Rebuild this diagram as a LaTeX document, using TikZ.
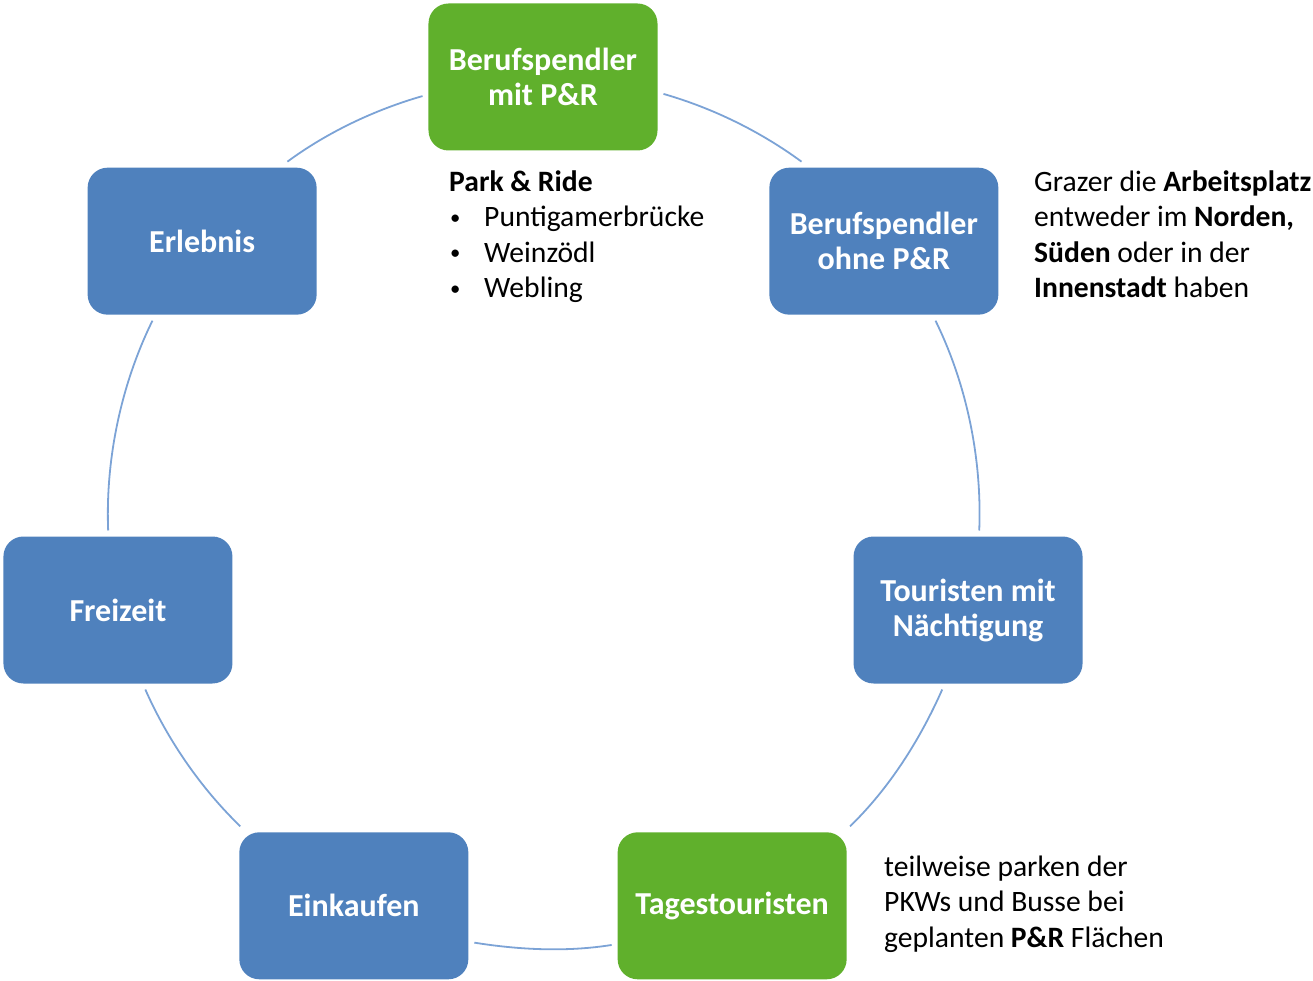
\documentclass[tikz,border=0pt]{standalone}
\usepackage{fontspec}
\setmainfont{Carlito}
\usetikzlibrary{positioning}
\definecolor{boxblau}{RGB}{79,129,189}
\definecolor{boxgruen}{RGB}{96,176,44}
\definecolor{kreislinie}{RGB}{124,163,214}

\begin{document}
\begin{tikzpicture}[x=1pt,y=1pt]
            \tikzset{kasten/.style={rectangle, rounded corners=20pt, minimum width=229pt, minimum height=147pt,
                inner sep=0pt, outer sep=6pt, text=white, align=center, font=\fontsize{32pt}{35pt}\selectfont\bfseries},
              ring/.style={draw=kreislinie, line width=1.8pt, looseness=0.85},
              info/.style={anchor=base west, inner sep=0pt, align=left, font=\fontsize{29.6pt}{35.5pt}\selectfont}}
            \newcommand{\punkt}{\makebox[35pt][l]{\hspace{1pt}\raisebox{2.5pt}{\scalebox{0.7}{\textbullet}}}}
            \useasboundingbox (-543,-468) rectangle (770,513);

            \node[kasten, fill=boxgruen] (bmit) at (90:436) {Berufspendler\\mit P\&R};
            \node[kasten, fill=boxblau] (bohne) at (38.571:436) {Berufspendler\\ohne P\&R};
            \node[kasten, fill=boxblau] (tour) at (-12.857:436) {Touristen mit\\Nächtigung};
            \node[kasten, fill=boxgruen] (tages) at (-64.286:436) {Tagestouristen};
            \node[kasten, fill=boxblau] (eink) at (-115.714:436) {Einkaufen};
            \node[kasten, fill=boxblau] (frei) at (-167.143:436) {Freizeit};
            \node[kasten, fill=boxblau] (erl) at (141.429:436) {Erlebnis};

            \draw[ring] (bmit.-8.02) to[out=-16.04, in=143.68] (bohne.136.13);
            \draw[ring] (bohne.-57.63) to[out=-63.83, in=87.70] (tour.82.44);
            \draw[ring] (tour.-108.37) to[out=-113.88, in=44.06] (tages.34.90);
            \draw[ring] (tages.-162.60) to[out=-170.93, in=-9.07] (eink.-17.40);
            \draw[ring] (eink.145.10) to[out=135.94, in=-66.12] (frei.-71.63);
            \draw[ring] (frei.97.56) to[out=92.30, in=-116.17] (erl.-122.37);
            \draw[ring] (erl.43.87) to[out=36.32, in=196.04] (bmit.-171.98);

            % Texte neben den Kaesten
            \node[info] (prinfo) at (-94,215) {\textbf{Park \& Ride}\\
              \punkt Puntigamerbrücke\\
              \punkt Weinzödl\\
              \punkt Webling};
            \node[info] (ohneinfo) at (491,215) {Grazer die \textbf{Arbeitsplatz}\\
              entweder im \textbf{Norden,}\\
              \textbf{Süden} oder in der\\
              \textbf{Innenstadt} haben};
            \node[info] (tagesinfo) at (341,-434) {teilweise parken der\\
              PKWs und Busse bei\\
              geplanten \textbf{P\&R} Flächen};
\end{tikzpicture}
\end{document}
